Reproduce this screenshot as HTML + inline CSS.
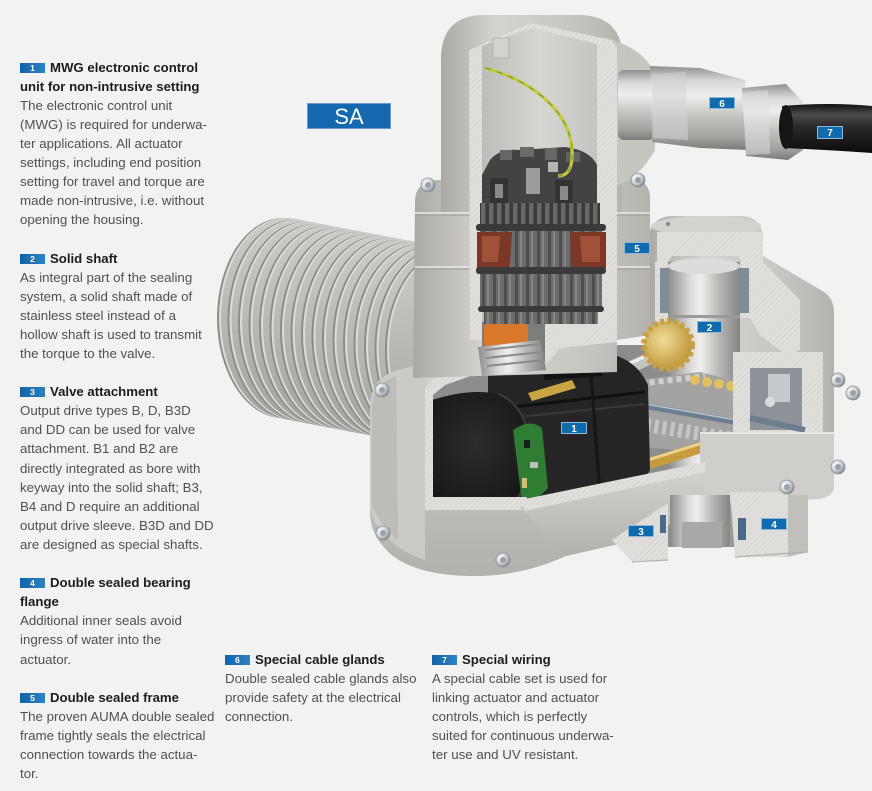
<!DOCTYPE html>
<html><head><meta charset="utf-8">
<style>
html,body{margin:0;padding:0;}
body{width:872px;height:791px;background:#f2f2f2;position:relative;overflow:hidden;font-family:"Liberation Sans",Arial,sans-serif;}
.it{position:absolute;font-size:13.3px;line-height:19.1px;color:#505050;white-space:nowrap;}
.h{font-weight:bold;color:#1c1c1c;font-size:13.2px;}
.b{display:inline-block;vertical-align:top;margin-top:5px;width:25px;height:10px;background:linear-gradient(90deg,#1163a8,#2d82c2);color:#fff;font-size:8.5px;line-height:10px;text-align:center;font-weight:bold;margin-right:5px;}
svg{position:absolute;left:0;top:0;}
</style></head>
<body>
<svg width="872" height="791" viewBox="0 0 872 791" xmlns="http://www.w3.org/2000/svg">
<defs>
 <linearGradient id="gb" x1="0" y1="0" x2="1" y2="0">
  <stop offset="0" stop-color="#aaa9a4"/><stop offset=".3" stop-color="#d4d3cf"/><stop offset=".7" stop-color="#c8c7c2"/><stop offset="1" stop-color="#b4b3ae"/>
 </linearGradient>
 <linearGradient id="gbv" x1="0" y1="0" x2="0" y2="1">
  <stop offset="0" stop-color="#d4d3cf"/><stop offset="1" stop-color="#b2b1ac"/>
 </linearGradient>
 <linearGradient id="gfin" x1="0" y1="0" x2="0" y2="1">
  <stop offset="0" stop-color="#cccbc7"/><stop offset=".5" stop-color="#b9b8b3"/><stop offset="1" stop-color="#a2a19c"/>
 </linearGradient>
 <linearGradient id="gint" x1="0" y1="0" x2="1" y2="0">
  <stop offset="0" stop-color="#bcbcb9"/><stop offset=".5" stop-color="#d6d6d3"/><stop offset="1" stop-color="#c4c4c1"/>
 </linearGradient>
 <pattern id="hatch" width="4" height="4" patternUnits="userSpaceOnUse" patternTransform="rotate(45)">
  <rect width="4" height="4" fill="#e0dfdb"/><line x1="0" y1="0" x2="0" y2="4" stroke="#cdccc8" stroke-width="1"/>
 </pattern>
 <pattern id="teeth" width="8" height="40" patternUnits="userSpaceOnUse">
  <rect width="8" height="40" fill="#3a3a3a"/><rect x="1" width="4.5" height="40" fill="#676767"/>
 </pattern>
 <pattern id="cols" width="11" height="40" patternUnits="userSpaceOnUse">
  <rect width="11" height="40" fill="#4e4e4e"/><rect x="1" width="8" height="40" fill="#6c6c6c"/><rect x="3" width="2" height="40" fill="#858585"/>
 </pattern>
 <linearGradient id="gm" x1="0" y1="0" x2="0" y2="1">
  <stop offset="0" stop-color="#8f8f8d"/><stop offset=".18" stop-color="#d8d8d6"/><stop offset=".35" stop-color="#eeeeec"/><stop offset=".6" stop-color="#c4c4c1"/><stop offset=".85" stop-color="#a3a3a0"/><stop offset="1" stop-color="#7a7a78"/>
 </linearGradient>
 <linearGradient id="gmh" x1="0" y1="0" x2="1" y2="0">
  <stop offset="0" stop-color="#8c8c8a"/><stop offset=".3" stop-color="#d9d9d7"/><stop offset=".45" stop-color="#efefed"/><stop offset=".7" stop-color="#b9b9b6"/><stop offset="1" stop-color="#858583"/>
 </linearGradient>
 <linearGradient id="gc" x1="0" y1="0" x2="0" y2="1">
  <stop offset="0" stop-color="#111"/><stop offset=".22" stop-color="#4c4c4c"/><stop offset=".45" stop-color="#2a2a2a"/><stop offset="1" stop-color="#0c0c0c"/>
 </linearGradient>
 <radialGradient id="gold" cx=".4" cy=".4" r=".7"><stop offset="0" stop-color="#f2dc98"/><stop offset="1" stop-color="#b88f2e"/></radialGradient>
 <radialGradient id="bolt" cx=".35" cy=".35" r=".7"><stop offset="0" stop-color="#ffffff"/><stop offset=".6" stop-color="#c9ccd0"/><stop offset="1" stop-color="#7f8389"/></radialGradient>
 <radialGradient id="gdisc" cx=".45" cy=".45" r=".7"><stop offset="0" stop-color="#2c2c2c"/><stop offset="1" stop-color="#151515"/></radialGradient>
 <g id="fin">
  <ellipse cx="0" cy="0" rx="66" ry="100" fill="#8d8c88"/>
  <ellipse cx="2" cy="0" rx="66" ry="100" fill="#dddcd8"/>
  <ellipse cx="4" cy="0" rx="66" ry="100" fill="url(#gfin)"/>
 </g>
 <g id="bt"><circle r="7" fill="url(#bolt)" stroke="#8e9298" stroke-width=".8"/><circle r="3" fill="#9aa0a6"/></g>
</defs>

<!-- motor fins -->
<use href="#fin" x="283" y="318"/>
<use href="#fin" x="293.5" y="320"/>
<use href="#fin" x="304" y="322"/>
<use href="#fin" x="314.5" y="324"/>
<use href="#fin" x="325" y="326"/>
<use href="#fin" x="335.5" y="328"/>
<use href="#fin" x="346" y="330"/>
<use href="#fin" x="356.5" y="332"/>
<use href="#fin" x="367" y="334"/>
<use href="#fin" x="377.5" y="336"/>
<use href="#fin" x="388" y="338"/>
<use href="#fin" x="398.5" y="340"/>
<use href="#fin" x="409" y="342"/>
<use href="#fin" x="419.5" y="344"/>
<use href="#fin" x="430" y="346"/>
<use href="#fin" x="440.5" y="348"/>
<use href="#fin" x="451" y="350"/>

<!-- gear housing outer -->
<path d="M648 245 Q648 217 672 216 L742 216 Q762 217 763 238 L763 256 L824 292 Q834 299 834 312 L834 486 Q833 497 818 499 L700 505 L648 505 Z" fill="url(#gb)"/>
<ellipse cx="706" cy="226" rx="55" ry="10" fill="#d3d2ce"/>
<circle cx="668" cy="224" r="2" fill="#8a8985"/>
<path d="M657 232 L763 232 L763 262 L742 262 L738 256 L672 256 L668 262 L657 262 Z" fill="url(#hatch)"/>
<path d="M740 262 L763 262 L800 300 L800 350 L786 355 L760 335 L750 318 L740 318 Z" fill="url(#hatch)"/>
<rect x="655" y="262" width="13" height="60" fill="url(#hatch)"/>
<rect x="660" y="268" width="9" height="45" fill="#7f8c99"/>
<rect x="740" y="268" width="9" height="45" fill="#7f8c99"/>

<!-- lower body outer -->
<path d="M370 405 Q371 378 398 370 L440 360 L660 358 L705 372 L705 505 L645 538 L566 556 Q520 577 470 576 Q418 575 393 556 Q370 537 370 512 Z" fill="url(#gbv)"/>
<path d="M370 405 Q371 378 398 370 L425 366 L425 560 Q400 552 385 535 Q370 520 370 505 Z" fill="#cbcac6"/>
<path d="M372 410 Q372 385 396 376 L398 540 Q380 525 372 505 Z" fill="#bdbcb7"/>
<path d="M433 380 L482 372 L600 345 L660 345 L705 372 L705 468 L525 505 L433 500 Z" fill="#8c8c8a"/>
<rect x="668" y="262" width="72" height="285" fill="url(#gmh)"/>
<ellipse cx="704" cy="266" rx="36" ry="8" fill="#dcdcda"/>
<rect x="668" y="315" width="72" height="3" fill="#9a9a98"/>
<path d="M600 385 L700 372 L740 382 L790 420 L795 442 L740 452 L620 447 Z" fill="#a3a3a1"/>
<path d="M605 388 L705 376" stroke="#d0d0ce" stroke-width="6" stroke-dasharray="5 4"/>
<path d="M615 420 L740 440" stroke="#c6c6c4" stroke-width="14" stroke-dasharray="4 4"/>
<g fill="#e2c060"><circle cx="695" cy="380" r="5"/><circle cx="707" cy="382" r="5"/><circle cx="719" cy="384" r="5"/><circle cx="731" cy="386" r="5"/><circle cx="742" cy="388" r="4"/></g>
<line x1="612" y1="400" x2="798" y2="433" stroke="#6d7e8f" stroke-width="6"/>
<line x1="612" y1="398" x2="798" y2="431" stroke="#b8c4cf" stroke-width="1.5"/>
<line x1="598" y1="382" x2="690" y2="340" stroke="#c4c4c2" stroke-width="12"/>
<line x1="598" y1="378" x2="690" y2="336" stroke="#f0f0ee" stroke-width="3"/>
<line x1="622" y1="472" x2="706" y2="446" stroke="#c59b3c" stroke-width="11"/>
<line x1="622" y1="468" x2="706" y2="442" stroke="#ecd18a" stroke-width="3"/>
<circle cx="626" cy="470" r="9" fill="#c9ccd0"/>
<rect x="733" y="352" width="90" height="82" fill="url(#hatch)"/>
<rect x="750" y="368" width="52" height="62" fill="#8e939a"/>
<rect x="768" y="374" width="22" height="28" fill="#c6c9cd"/>
<line x1="750" y1="418" x2="805" y2="430" stroke="#6d7e8f" stroke-width="6"/>
<circle cx="770" cy="402" r="5" fill="#d9dde2"/>
<path d="M700 433 L834 433 L834 488 Q833 497 818 499 L700 505 Z" fill="#cfceca"/>
<line x1="700" y1="433" x2="834" y2="433" stroke="#e6e5e1" stroke-width="2"/>

<!-- MWG -->
<path d="M488 372 Q540 350 600 352 Q635 356 648 385 L650 470 Q640 492 600 498 L520 505 L488 505 Z" fill="#252525"/>
<path d="M540 364 L600 360 L602 376 L545 380 Z" fill="#121212"/>
<path d="M505 408 L645 392" stroke="#101010" stroke-width="3"/>
<path d="M508 418 L645 404" stroke="#383838" stroke-width="2"/>
<path d="M590 360 L600 495" stroke="#161616" stroke-width="3"/>
<path d="M528 393 L572 380 L576 388 L532 401 Z" fill="#c9a544"/>
<path d="M432 400 Q470 388 498 394 Q528 405 530 452 Q528 498 505 507 L432 507 Z" fill="url(#gdisc)"/>
<path d="M498 394 Q528 405 530 452 Q528 498 505 507" fill="none" stroke="#3b3b3b" stroke-width="2"/>
<path d="M513 430 Q530 418 542 428 L548 488 Q538 500 522 502 Z" fill="#2e7d32"/>
<rect x="524" y="440" width="6" height="8" fill="#1d1d1d"/><rect x="530" y="462" width="8" height="6" fill="#bfbfbf"/><rect x="522" y="478" width="5" height="10" fill="#d0c070"/>

<path d="M470 330 L482 330 L482 372 L445 385 L433 395 L433 500 L425 500 L425 388 L440 372 L470 362 Z" fill="url(#hatch)"/>
<path d="M425 497 L527 497 L527 510 L425 510 Z" fill="url(#hatch)"/>
<path d="M520 507 L705 468 L705 505 L645 538 L566 556 Z" fill="url(#gbv)"/>
<path d="M520 500 L705 462 L705 472 L525 511 Z" fill="url(#hatch)"/>

<!-- bottom flange -->
<path d="M612 540 L668 503 L668 560 L632 562 Z" fill="url(#hatch)"/>
<rect x="670" y="495" width="60" height="52" fill="url(#gmh)"/>
<rect x="682" y="522" width="40" height="26" fill="#a8a8a6"/>
<path d="M730 492 L788 492 L788 557 L735 557 Z" fill="url(#hatch)"/>
<path d="M788 495 L808 495 L808 552 L788 557 Z" fill="#c0bfba"/>
<rect x="660" y="515" width="6" height="18" fill="#4a6a8a"/>
<rect x="738" y="518" width="8" height="22" fill="#4a6a8a"/>
<path d="M632 562 L668 560 M735 557 L808 552" stroke="#b3b2ad" stroke-width="1.2"/>

<!-- column / mid flange -->
<path d="M415 200 Q416 182 436 180 L630 178 Q650 180 650 198 L650 335 L617 340 L617 372 L413 378 Z" fill="url(#gb)"/>
<line x1="415" y1="213" x2="650" y2="213" stroke="#e9e8e4" stroke-width="1.5"/>
<line x1="415" y1="215" x2="650" y2="215" stroke="#a09f9a" stroke-width="1"/>
<line x1="415" y1="267" x2="650" y2="267" stroke="#e9e8e4" stroke-width="1.5"/>
<line x1="415" y1="269" x2="650" y2="269" stroke="#a09f9a" stroke-width="1"/>
<path d="M441 212 L441 58 Q442 16 482 15 L582 15 Q618 17 622 50 L622 212 Z" fill="url(#gb)"/>
<path d="M605 38 Q645 48 655 75 L655 150 Q640 178 612 188 Z" fill="#c6c5c0"/>
<path d="M469 50 L531 23 L612 40 L617 48 L617 340 L470 340 Z" fill="url(#hatch)"/>
<path d="M545 330 L617 330 L617 342 L560 348 L548 362 L540 362 Z" fill="url(#hatch)"/>
<path d="M482 46 L532 28 L597 44 L597 322 L482 322 Z" fill="url(#gint)"/>
<rect x="493" y="38" width="16" height="20" fill="#d2d2cf" stroke="#aaa" stroke-width=".8"/>
<path d="M482 322 L545 322 L545 362 L482 374 Z" fill="#7d7d7b"/>
<rect x="484" y="324" width="44" height="22" rx="3" fill="#d9782a"/>
<path d="M478 347 L540 340 L546 370 L482 376 Z" fill="url(#gmh)"/>
<path d="M485 350 L540 344 M486 358 L542 352 M487 366 L544 360" stroke="#8a8a88" stroke-width="2"/>
<path d="M490 160 Q500 148 520 150 L565 147 Q590 150 597 165 L597 205 L482 205 L482 175 Z" fill="#434343"/>
<rect x="500" y="150" width="12" height="10" fill="#666"/><rect x="520" y="147" width="14" height="10" fill="#6a6a6a"/><rect x="545" y="148" width="12" height="12" fill="#666"/><rect x="566" y="152" width="14" height="10" fill="#626262"/>
<rect x="490" y="178" width="18" height="25" fill="#333"/><rect x="495" y="184" width="8" height="14" fill="#8a8a8a"/>
<rect x="555" y="180" width="18" height="24" fill="#333"/><rect x="560" y="186" width="8" height="14" fill="#8a8a8a"/>
<rect x="526" y="168" width="14" height="26" fill="#9c9c9c"/><rect x="548" y="162" width="10" height="10" fill="#b5b5b5"/>
<rect x="480" y="203" width="120" height="24" fill="url(#teeth)"/>
<rect x="476" y="224" width="130" height="7" rx="3" fill="#3a3a3a"/>
<rect x="480" y="231" width="122" height="37" fill="url(#cols)"/>
<path d="M477 232 L512 232 L510 268 L477 268 Z" fill="#7b3826"/><path d="M482 236 L500 236 L498 262 L482 262 Z" fill="#9f5238"/>
<path d="M570 232 L606 232 L606 268 L572 268 Z" fill="#7b3826"/><path d="M580 236 L600 236 L600 262 L582 262 Z" fill="#9f5238"/>
<rect x="476" y="267" width="130" height="7" rx="3" fill="#3a3a3a"/>
<rect x="480" y="274" width="122" height="34" fill="url(#cols)"/>
<rect x="478" y="306" width="126" height="6" rx="3" fill="#3a3a3a"/>
<rect x="484" y="312" width="114" height="12" fill="url(#cols)"/>
<path d="M485 68 C530 80 570 110 572 150 C573 168 568 176 558 176" fill="none" stroke="#c8c83a" stroke-width="3.2"/>
<path d="M485 68 C530 80 570 110 572 150 C573 168 568 176 558 176" fill="none" stroke="#6fa83a" stroke-width="1.4" stroke-dasharray="6 6"/>

<circle cx="668" cy="345" r="24" fill="url(#gold)" stroke="#c9a040" stroke-width="6" stroke-dasharray="4 3"/>

<!-- gland -->
<rect x="618" y="70" width="36" height="70" rx="6" fill="url(#gm)"/>
<path d="M650 66 L700 68 L745 80 L748 150 L700 148 L652 142 Z" fill="url(#gm)"/>
<path d="M652 74 L686 72 L688 140 L653 138 Z" fill="#d4d4d1" opacity=".55"/>
<path d="M742 88 L786 84 L803 102 L803 150 L788 160 L746 156 Z" fill="url(#gm)"/>
<path d="M743 92 L768 90 L770 154 L746 155 Z" fill="#e0e0de" opacity=".5"/>
<path d="M782 106 Q830 102 872 106 L872 153 Q830 150 784 148 Z" fill="url(#gc)"/>
<ellipse cx="786" cy="127" rx="7" ry="22" fill="#151515"/>

<use href="#bt" x="428" y="185"/>
<use href="#bt" x="638" y="180"/>
<use href="#bt" x="382" y="390"/>
<use href="#bt" x="383" y="533"/>
<use href="#bt" x="503" y="560"/>
<use href="#bt" x="838" y="380"/>
<use href="#bt" x="853" y="393"/>
<use href="#bt" x="838" y="467"/>
<use href="#bt" x="787" y="487"/>

<rect x="307.5" y="103.5" width="83" height="25" fill="#1468ad" stroke="#6a9dcb" stroke-width="1"/>
<text x="349" y="124" font-family="Liberation Sans, Arial, sans-serif" font-size="22" fill="#ffffff" text-anchor="middle">SA</text>

<g font-family="Liberation Sans, Arial, sans-serif" font-size="10" font-weight="bold" fill="#ffffff" text-anchor="middle">
 <rect x="561.5" y="422.5" width="25" height="11" fill="#0f6aae" stroke="#8fb8d8"/><text x="574" y="432">1</text>
 <rect x="697.5" y="321.5" width="24" height="11" fill="#0f6aae" stroke="#8fb8d8"/><text x="709.5" y="331">2</text>
 <rect x="628.5" y="525.5" width="25" height="11" fill="#0f6aae" stroke="#8fb8d8"/><text x="641" y="535">3</text>
 <rect x="761.5" y="518.5" width="25" height="11" fill="#0f6aae" stroke="#8fb8d8"/><text x="774" y="528">4</text>
 <rect x="624.5" y="242.5" width="25" height="11" fill="#0f6aae" stroke="#8fb8d8"/><text x="637" y="252">5</text>
 <rect x="709.5" y="97.5" width="25" height="11" fill="#0f6aae" stroke="#8fb8d8"/><text x="722" y="107">6</text>
 <rect x="817.5" y="126.5" width="25" height="12" fill="#0f6aae" stroke="#8fb8d8"/><text x="830" y="136">7</text>
</g>
</svg>

<div class="it" style="left:20px;top:57.5px;">
<div class="h"><span class="b">1</span>MWG electronic control</div>
<div class="h">unit for non-intrusive setting</div>
<div>The electronic control unit</div>
<div>(MWG) is required for underwa-</div>
<div>ter applications. All actuator</div>
<div>settings, including end position</div>
<div>setting for travel and torque are</div>
<div>made non-intrusive, i.e. without</div>
<div>opening the housing.</div>
</div>

<div class="it" style="left:20px;top:248.5px;">
<div class="h"><span class="b">2</span>Solid shaft</div>
<div>As integral part of the sealing</div>
<div>system, a solid shaft made of</div>
<div>stainless steel instead of a</div>
<div>hollow shaft is used to transmit</div>
<div>the torque to the valve.</div>
</div>

<div class="it" style="left:20px;top:382.2px;">
<div class="h"><span class="b">3</span>Valve attachment</div>
<div>Output drive types B, D, B3D</div>
<div>and DD can be used for valve</div>
<div>attachment. B1 and B2 are</div>
<div>directly integrated as bore with</div>
<div>keyway into the solid shaft; B3,</div>
<div>B4 and D require an additional</div>
<div>output drive sleeve. B3D and DD</div>
<div>are designed as special shafts.</div>
</div>

<div class="it" style="left:20px;top:573.2px;">
<div class="h"><span class="b">4</span>Double sealed bearing</div>
<div class="h">flange</div>
<div>Additional inner seals avoid</div>
<div>ingress of water into the</div>
<div>actuator.</div>
</div>

<div class="it" style="left:20px;top:687.8px;">
<div class="h"><span class="b">5</span>Double sealed frame</div>
<div>The proven AUMA double sealed</div>
<div>frame tightly seals the electrical</div>
<div>connection towards the actua-</div>
<div>tor.</div>
</div>

<div class="it" style="left:225px;top:649.6px;">
<div class="h"><span class="b">6</span>Special cable glands</div>
<div>Double sealed cable glands also</div>
<div>provide safety at the electrical</div>
<div>connection.</div>
</div>

<div class="it" style="left:432px;top:649.6px;">
<div class="h"><span class="b">7</span>Special wiring</div>
<div>A special cable set is used for</div>
<div>linking actuator and actuator</div>
<div>controls, which is perfectly</div>
<div>suited for continuous underwa-</div>
<div>ter use and UV resistant.</div>
</div>
</body></html>
